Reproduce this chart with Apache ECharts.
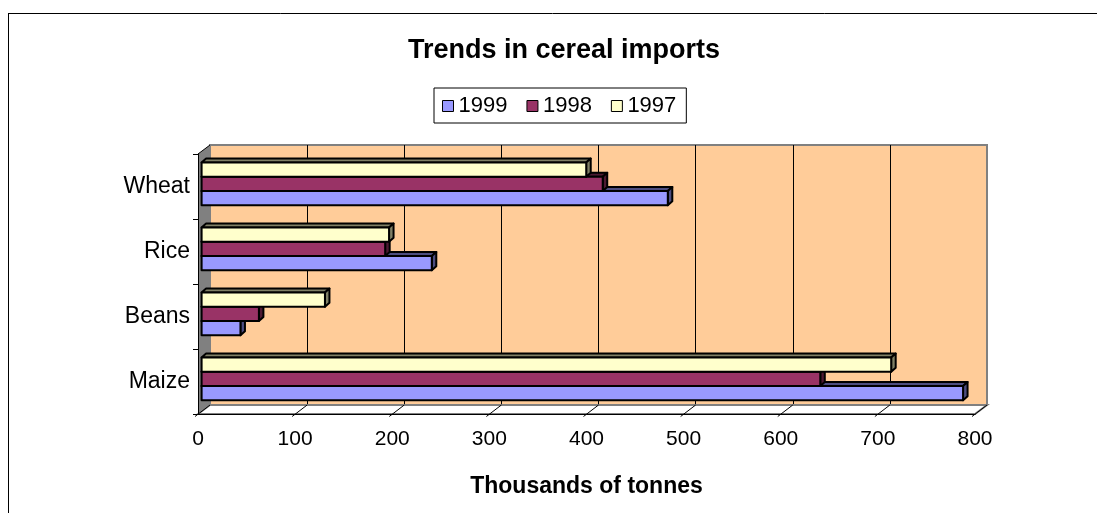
<!DOCTYPE html>
<html>
<head>
<meta charset="utf-8">
<script src="https://cdn.jsdelivr.net/npm/echarts@6/dist/echarts.min.js"></script>
<style>
  html, body { margin: 0; padding: 0; background: #fff; }
  #chart { width: 1097px; height: 513px; }
</style>
</head>
<body>
<div id="chart"></div>
<script>
// Cereal imports, thousands of tonnes
const categories = ['Maize', 'Beans', 'Rice', 'Wheat'];
const years = ['1999', '1998', '1997'];
const imports1999 = [784, 40, 237, 480];
const imports1998 = [637, 59, 189, 413];
const imports1997 = [710, 127, 193, 396];
const xTicks = [0, 100, 200, 300, 400, 500, 600, 700, 800];

const FONT = '"Liberation Sans", Arial, sans-serif';
// depth of the plot box: front plane -> back wall
const WALL_DX = 12, WALL_DY = -9;
// bars stand slightly behind the front plane
const BAR_DX = 3.6, BAR_DY = -2.6;
// visible thickness of each bar
const BAR_DEPTH_X = 4.5, BAR_DEPTH_Y = -4;

const yearValues = [imports1999, imports1998, imports1997];
const yearStyles = [
  { face: '#9999FF', shade: '#4D4D80' },
  { face: '#993366', shade: '#4D1A33' },
  { face: '#FFFFCC', shade: '#808066' }
];
// slot inside a category band: 1999 lowest, 1997 on top
const slots = [1, 0, -1];

function makeBarRenderer(slot, style) {
  return function (params, api) {
    const cat = api.value(1);
    const start = api.coord([0, cat]);
    const end = api.coord([api.value(0), cat]);
    const band = api.size([0, 1])[1];
    const t = band * 0.219;
    const yc = start[1] + slot * t + BAR_DY;
    const x0 = start[0] + BAR_DX, x1 = end[0] + BAR_DX;
    const y0 = yc - t / 2, y1 = yc + t / 2;
    const dx = BAR_DEPTH_X, dy = BAR_DEPTH_Y;
    const edge = { stroke: '#000', lineWidth: 2, lineJoin: 'round' };
    return {
      type: 'group',
      children: [
        { type: 'polygon', shape: { points: [[x0, y0], [x0 + dx, y0 + dy], [x1 + dx, y0 + dy], [x1, y0]] },
          style: Object.assign({ fill: style.shade }, edge) },
        { type: 'polygon', shape: { points: [[x1, y0], [x1 + dx, y0 + dy], [x1 + dx, y1 + dy], [x1, y1]] },
          style: Object.assign({ fill: style.shade }, edge) },
        { type: 'rect', shape: { x: x0, y: y0, width: x1 - x0, height: y1 - y0 },
          style: Object.assign({ fill: style.face }, edge) }
      ]
    };
  };
}

// side wall, floor and the slanted value ticks across the floor
function renderFrame(params, api) {
  const cs = params.coordSys;
  const bottom = cs.y + cs.height, right = cs.x + cs.width;
  const x = api.coord([api.value(0), 0])[0];
  const children = [];
  if (params.dataIndex === 0) {
    children.push(
      { type: 'polygon',
        shape: { points: [[cs.x, bottom], [cs.x + WALL_DX, bottom + WALL_DY], [right + WALL_DX, bottom + WALL_DY], [right, bottom]] },
        style: { fill: '#FFFFFF', stroke: '#808080', lineWidth: 2 } },
      { type: 'polygon',
        shape: { points: [[cs.x, cs.y], [cs.x + WALL_DX, cs.y + WALL_DY], [cs.x + WALL_DX, bottom + WALL_DY], [cs.x, bottom]] },
        style: { fill: '#808080' } },
      { type: 'line',
        shape: { x1: cs.x, y1: cs.y, x2: cs.x + WALL_DX, y2: cs.y + WALL_DY },
        style: { stroke: '#000', lineWidth: 1 } }
    );
  }
  children.push({
    type: 'line',
    shape: { x1: x - 3, y1: bottom + 2.5, x2: x + WALL_DX, y2: bottom + WALL_DY },
    style: { stroke: '#000', lineWidth: 1 }
  });
  return { type: 'group', children: children };
}

const barSeries = years.map(function (year, k) {
  return {
    name: year,
    type: 'custom',
    xAxisIndex: 1,
    yAxisIndex: 1,
    z: 3 + k,
    itemStyle: { color: yearStyles[k].face, borderColor: '#000', borderWidth: 1 },
    renderItem: makeBarRenderer(slots[k], yearStyles[k]),
    encode: { x: 0, y: 1 },
    data: categories.map(function (c, i) { return [yearValues[k][i], i]; })
  };
});

const chart = echarts.init(document.getElementById('chart'), null, { renderer: 'canvas' });
chart.setOption({
  animation: false,
  backgroundColor: '#fff',
  title: {
    text: 'Trends in cereal imports',
    left: 559,
    textAlign: 'center',
    top: 32,
    textStyle: { fontFamily: FONT, fontSize: 27, fontWeight: 'bold', color: '#000' }
  },
  legend: {
    data: years,
    left: 434,
    top: 88,
    padding: [7, 10, 6, 8],
    itemGap: 19,
    itemWidth: 11,
    itemHeight: 11,
    icon: 'rect',
    borderColor: '#000',
    borderWidth: 1,
    itemStyle: { borderColor: '#000', borderWidth: 1 },
    textStyle: { fontFamily: FONT, fontSize: 22, color: '#000' }
  },
  grid: [
    { left: 210, right: 110, top: 145, bottom: 108, show: true,
      backgroundColor: '#FFCC99', borderColor: '#808080', borderWidth: 2 },
    { left: 198, right: 122, top: 154, bottom: 99 }
  ],
  xAxis: [
    { type: 'value', gridIndex: 0, min: 0, max: 800, interval: 100,
      axisLine: { show: false }, axisTick: { show: false }, axisLabel: { show: false },
      splitLine: { show: true, showMinLine: false, showMaxLine: false, lineStyle: { color: '#000', width: 1 } } },
    { type: 'value', gridIndex: 1, min: 0, max: 800, interval: 100, z: 10,
      axisLine: { show: true, lineStyle: { color: '#000', width: 1 } },
      axisTick: { show: false },
      splitLine: { show: false },
      axisLabel: { fontFamily: FONT, fontSize: 21, color: '#000', margin: 15 },
      name: 'Thousands of tonnes',
      nameLocation: 'middle',
      nameGap: 61,
      nameTextStyle: { fontFamily: FONT, fontSize: 23, fontWeight: 'bold', color: '#000' } }
  ],
  yAxis: [
    { type: 'category', gridIndex: 0, data: categories, show: false },
    { type: 'category', gridIndex: 1, data: categories, z: 10,
      axisLine: { show: true, lineStyle: { color: '#000', width: 1 } },
      axisTick: { show: true, length: 5, lineStyle: { color: '#000' } },
      splitLine: { show: false },
      axisLabel: { fontFamily: FONT, fontSize: 23, color: '#000', margin: 8 } }
  ],
  graphic: [
    { type: 'line', shape: { x1: 8.5, y1: 13, x2: 8.5, y2: 513 }, style: { stroke: '#000', lineWidth: 1 } },
    { type: 'line', shape: { x1: 8, y1: 13.5, x2: 1097, y2: 13.5 }, style: { stroke: '#000', lineWidth: 1 } }
  ],
  series: [
    { name: 'frame', type: 'custom', xAxisIndex: 1, yAxisIndex: 1, z: 1, silent: true,
      renderItem: renderFrame, encode: { x: 0 },
      data: xTicks.map(function (v) { return [v]; }) }
  ].concat(barSeries)
});
</script>
</body>
</html>
